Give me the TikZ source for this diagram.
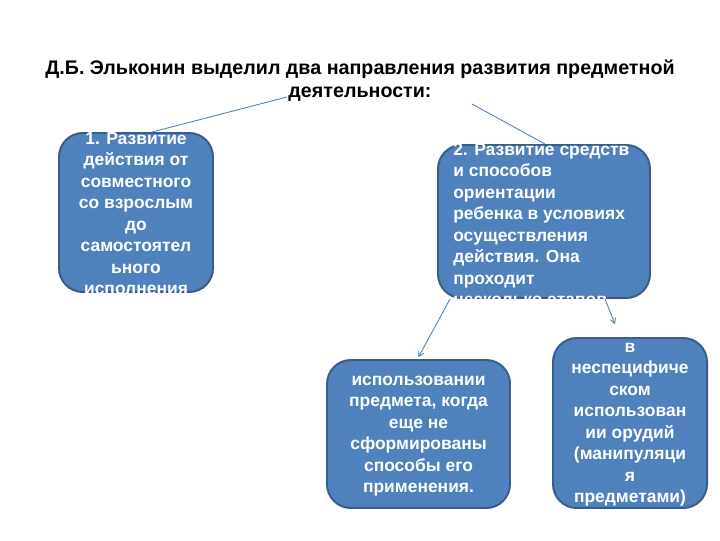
\documentclass[tikz,border=0pt]{standalone}
\usepackage{fontspec}
\setmainfont{Liberation Sans}
\usetikzlibrary{calc,arrows.meta}
\definecolor{panelfill}{HTML}{4F81BD}
\definecolor{paneledge}{HTML}{385D8A}
\definecolor{linkblue}{HTML}{4A7EBB}
\newcommand{\pxu}{0.025cm}

\begin{document}
\begin{tikzpicture}[x=0.025cm,y=-0.025cm,
	panel/.style={draw=paneledge,fill=panelfill,line width=1.4pt,rounded corners=17pt,inner sep=0pt},
	paneltext/.style={text=white,font=\bfseries\fontsize{12.4}{15.3}\selectfont,inner sep=0pt},
	link/.style={draw=linkblue,line width=0.6pt},
	tip/.style={-{Straight Barb[length=3.5pt,width=4pt]}}]
	\useasboundingbox[fill=white] (0,0) rectangle (720,540);
	% heading
	\node[font=\bfseries\fontsize{14}{16.4}\selectfont,align=center] (title) at (360,81)
		{Д.Б. Эльконин выделил два направления развития предметной\\деятельности:};
	\coordinate (t1) at (287,97);
	\coordinate (t2) at (472,104);
	% boxes
	\node[panel,minimum width=154*\pxu,minimum height=159*\pxu] (box1) at (136,212.5) {};
	\node[panel,minimum width=212*\pxu,minimum height=153*\pxu] (box2) at (544,221.5) {};
	\node[panel,minimum width=183*\pxu,minimum height=148*\pxu] (box3) at (418.5,434) {};
	\node[panel,minimum width=154*\pxu,minimum height=170*\pxu] (box4) at (630,423) {};
	% box texts
	\node[paneltext,align=center] (text1) at (136,213.5)
		{1. Развитие\\действия от\\совместного\\со взрослым\\до\\самостоятел\\ьного\\исполнения};
	\node[paneltext,align=left,anchor=west] (text2) at (453,224.5)
		{2. Развитие средств\\и способов\\ориентации\\ребенка в условиях\\осуществления\\действия. Она\\проходит\\несколько этапов};
	\node[paneltext,align=center] (text3) at (418.5,436)
		{использовании\\предмета, когда\\еще не\\сформированы\\способы его\\применения.};
	\node[paneltext,align=center] (text4) at (630,424.5)
		{в\\неспецифиче\\ском\\использован\\ии орудий\\(манипуляци\\я\\предметами)};
	% connectors
	\draw[link] (t1) -- ($(box1.north)+(16,0)$);
	\draw[link] (t2) -- ($(box2.north)+(1,0)$);
	\draw[link,tip] ($(box2.south)+(-94,0)$) -- ($(box3.north)+(0,-2)$);
	\coordinate (a4) at ($(box4.north)+(-15,-13)$);
	\draw[link,tip] ($(box2.south)+(61,0)$) -- (a4);
\end{tikzpicture}
\end{document}
